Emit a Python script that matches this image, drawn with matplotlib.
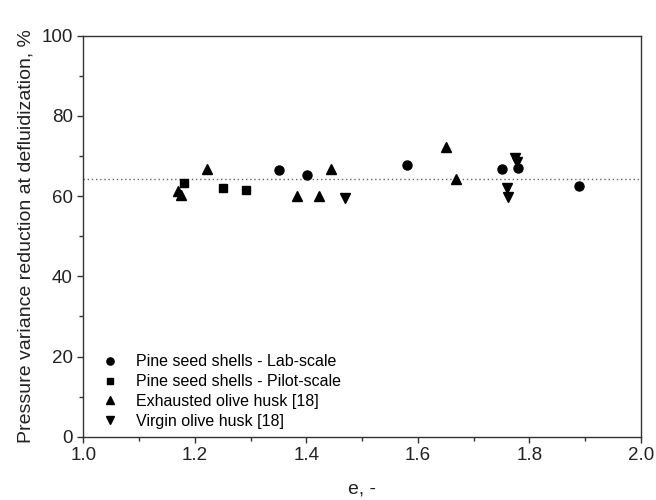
import matplotlib
matplotlib.use("Agg")
import matplotlib.pyplot as plt
from matplotlib.ticker import MultipleLocator

plt.rcParams['font.family'] = ['Liberation Sans', 'DejaVu Sans']

lab_x = [1.351, 1.401, 1.581, 1.750, 1.780, 1.889]
lab_y = [66.5, 65.3, 67.8, 66.8, 67.1, 62.4]

pilot_x = [1.181, 1.251, 1.291]
pilot_y = [63.3, 62.1, 61.5]

exh_x = [1.170, 1.175, 1.221, 1.384, 1.423, 1.444, 1.650, 1.668]
exh_y = [61.3, 60.3, 66.8, 60.0, 60.0, 66.8, 72.3, 64.3]

vir_x = [1.469, 1.759, 1.762, 1.775, 1.777]
vir_y = [59.6, 62.1, 59.8, 69.6, 68.4]

mean_y = 64.3

fig = plt.figure(figsize=(6.56, 5.0), dpi=100)
ax = fig.add_axes([0.127, 0.1266, 0.85, 0.802])

ax.axhline(mean_y, color='#666666', linestyle=(0, (1, 2)), linewidth=1.0, zorder=1)

ax.plot(lab_x, lab_y, 'o', color='black', markersize=6.5, linestyle='none', label='Pine seed shells - Lab-scale')
ax.plot(pilot_x, pilot_y, 's', color='black', markersize=6, linestyle='none', label='Pine seed shells - Pilot-scale')
ax.plot(exh_x, exh_y, '^', color='black', markersize=6.5, linestyle='none', label='Exhausted olive husk [18]')
ax.plot(vir_x, vir_y, 'v', color='black', markersize=6.5, linestyle='none', label='Virgin olive husk [18]')

ax.set_xlim(1.0, 2.0)
ax.set_ylim(0, 100)
ax.xaxis.set_major_locator(MultipleLocator(0.2))
ax.xaxis.set_minor_locator(MultipleLocator(0.1))
ax.yaxis.set_major_locator(MultipleLocator(20))
ax.yaxis.set_minor_locator(MultipleLocator(10))
ax.xaxis.set_major_formatter(matplotlib.ticker.FormatStrFormatter('%.1f'))
ax.tick_params(which='major', direction='out', length=4, width=1, labelsize=13.5, top=False, right=False, color='#333333', labelcolor='#222222')
ax.tick_params(which='minor', direction='out', length=3, width=1, top=False, right=False, color='#333333')
for s in ax.spines.values():
    s.set_color('#333333')
    s.set_linewidth(1.0)

ax.set_xlabel('e, -', fontsize=14, color='#222222', labelpad=12)
ax.set_ylabel('Pressure variance reduction at defluidization, %', fontsize=14, color='#222222', labelpad=5)

leg = ax.legend(loc='lower left', bbox_to_anchor=(0.008, 0.004), frameon=False, numpoints=1,
                fontsize=11.5, handletextpad=0.6, handlelength=2.0,
                labelspacing=0.3, borderaxespad=0.0, markerscale=0.8)

fig.savefig('out.png', dpi=100)
